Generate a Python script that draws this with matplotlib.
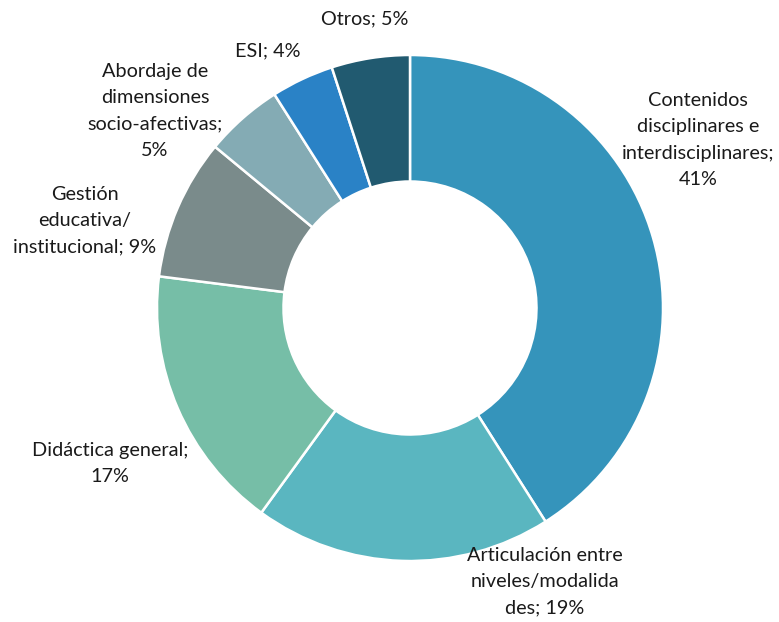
import matplotlib.pyplot as plt

# Data
categories = [
    "Contenidos\ndisciplinares e\ninterdisciplinares;",
    "Articulación entre\nniveles/modalida\ndes;",
    "Didáctica general;",
    "Gestión\neducativa/\ninstitucional;",
    "Abordaje de\ndimensiones\nsocio-afectivas;",
    "ESI;",
    "Otros;",
]
values = [41, 19, 17, 9, 5, 4, 5]
colors = ["#3594BB", "#5AB6C0", "#76BEA7", "#7A8B8B", "#84ABB4", "#2A82C6", "#215A70"]

# whether the percentage goes on its own line
pct_newline = [True, False, True, False, True, False, False]

# label centres (units of outer radius, relative to the donut centre)
label_pos = [
    (1.138, 0.664),
    (0.534, -1.083),
    (-1.186, -0.613),
    (-1.285, 0.344),
    (-1.008, 0.779),
    (-0.561, 1.016),
    (-0.178, 1.142),
]

plt.rcParams["font.family"] = ["Lato", "DejaVu Sans"]

fig = plt.figure(figsize=(7.79, 6.22), dpi=100)
ax = fig.add_axes([0, 0, 1, 1])

ax.pie(
    values,
    colors=colors,
    startangle=90,
    counterclock=False,
    radius=1.0,
    wedgeprops=dict(width=0.5, edgecolor="white", linewidth=1.8),
)

for cat, val, nl, (x, y) in zip(categories, values, pct_newline, label_pos):
    sep = "\n" if nl else " "
    ax.text(x, y, f"{cat}{sep}{val}%", ha="center", va="center",
            fontsize=14.3, color="#1a1a1a", linespacing=1.65)

ax.set_xlim(-410 / 253, 369 / 253)
ax.set_ylim((308 - 622) / 253, 308 / 253)
ax.set_aspect("equal")
ax.axis("off")

fig.savefig("out.png", dpi=100)
